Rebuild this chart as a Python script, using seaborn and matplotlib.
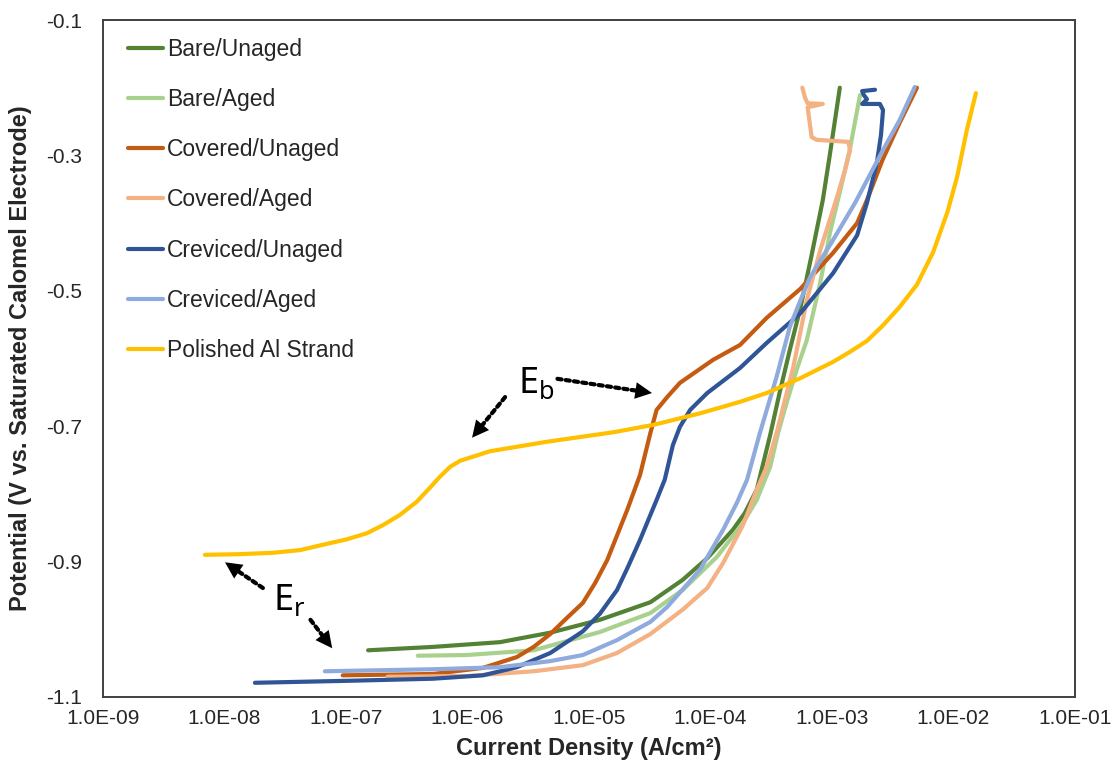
import numpy as np
import pandas as pd
import matplotlib
matplotlib.use("Agg")
import matplotlib.pyplot as plt
import matplotlib.ticker as mticker
import seaborn as sns

# ================= data =================
names = ["Bare/Unaged", "Bare/Aged", "Covered/Unaged", "Covered/Aged",
         "Creviced/Unaged", "Creviced/Aged", "Polished Al Strand"]
colors = ["#548235", "#A9D18E", "#C55A11", "#F4B183", "#2F5597", "#8FAADC", "#FFC000"]

# current density (A/cm2) and potential (V vs SCE)
bare_unaged_i = [1.52e-7, 5.2e-7, 1.85e-6, 4.8e-6, 1.23e-5, 3.2e-5, 5.9e-5, 9.4e-5,
                 1.53e-4, 1.92e-4, 2.4e-4, 3.1e-4, 3.7e-4, 4.5e-4, 5.5e-4, 6.8e-4,
                 8.4e-4, 9.6e-4, 1.16e-3]
bare_unaged_e = [-1.031, -1.026, -1.019, -1.005, -0.986, -0.960, -0.927, -0.895,
                 -0.853, -0.828, -0.794, -0.713, -0.651, -0.587, -0.525, -0.447,
                 -0.366, -0.299, -0.200]

bare_aged_i = [3.9e-7, 9.9e-7, 3.5e-6, 1.23e-5, 3.2e-5, 5.9e-5, 1.13e-4, 1.85e-4,
               2.4e-4, 3.1e-4, 3.6e-4, 4.3e-4, 5.2e-4, 6.2e-4, 8.0e-4, 9.6e-4,
               1.16e-3, 1.41e-3, 1.70e-3]
bare_aged_e = [-1.039, -1.038, -1.031, -1.004, -0.976, -0.942, -0.893, -0.843,
               -0.809, -0.760, -0.710, -0.661, -0.613, -0.573, -0.488, -0.415,
               -0.354, -0.289, -0.211]

covered_unaged_i = [9.4e-8, 5.2e-7, 1.34e-6, 2.55e-6, 3.5e-6, 4.8e-6, 6.6e-6, 8.9e-6,
                    1.12e-5, 1.41e-5, 2.06e-5, 2.63e-5, 3.2e-5, 3.6e-5, 4.4e-5, 5.6e-5,
                    1.05e-4, 1.75e-4, 2.9e-4, 5.5e-4, 1.02e-3, 1.61e-3, 1.94e-3, 2.6e-3,
                    3.6e-3, 5.0e-3]
covered_unaged_e = [-1.068, -1.066, -1.057, -1.041, -1.026, -1.007, -0.983, -0.961,
                    -0.932, -0.898, -0.824, -0.772, -0.710, -0.676, -0.657, -0.636,
                    -0.602, -0.580, -0.540, -0.497, -0.444, -0.400, -0.366, -0.307,
                    -0.252, -0.200]

covered_aged_i = [2.2e-7, 9.9e-7, 3.5e-6, 8.9e-6, 1.70e-5, 3.2e-5, 5.9e-5, 9.4e-5,
                  1.27e-4, 1.85e-4, 2.4e-4, 2.9e-4, 3.5e-4, 4.1e-4, 4.8e-4, 6.2e-4,
                  8.0e-4, 1.08e-3, 1.28e-3, 1.41e-3, 1.36e-3, 7.5e-4, 6.8e-4, 6.3e-4,
                  8.4e-4, 6.3e-4, 6.0e-4, 5.7e-4]
covered_aged_e = [-1.070, -1.069, -1.062, -1.053, -1.035, -1.007, -0.971, -0.939,
                  -0.902, -0.846, -0.794, -0.760, -0.710, -0.661, -0.613, -0.514,
                  -0.440, -0.366, -0.322, -0.292, -0.280, -0.277, -0.273, -0.229,
                  -0.224, -0.223, -0.215, -0.200]

creviced_unaged_i = [1.78e-8, 1.08e-7, 5.2e-7, 1.34e-6, 2.55e-6, 4.8e-6, 8.9e-6, 1.23e-5,
                     1.70e-5, 2.09e-5, 2.63e-5, 3.6e-5, 4.2e-5, 4.9e-5, 5.6e-5, 6.8e-5,
                     9.4e-5, 1.75e-4, 2.9e-4, 5.5e-4, 1.02e-3, 1.61e-3, 1.94e-3, 2.34e-3,
                     2.53e-3, 2.63e-3, 2.48e-3, 1.77e-3, 1.94e-3, 1.83e-3, 1.77e-3, 2.26e-3]
creviced_unaged_e = [-1.079, -1.076, -1.073, -1.068, -1.056, -1.035, -1.003, -0.977,
                     -0.942, -0.908, -0.868, -0.809, -0.779, -0.728, -0.701, -0.676,
                     -0.651, -0.614, -0.577, -0.533, -0.474, -0.418, -0.370, -0.311,
                     -0.270, -0.233, -0.224, -0.224, -0.217, -0.211, -0.205, -0.203]

creviced_aged_i = [6.7e-8, 5.2e-7, 1.85e-6, 4.8e-6, 8.9e-6, 1.70e-5, 3.2e-5, 4.4e-5,
                   8.2e-5, 1.27e-4, 1.65e-4, 2.0e-4, 2.55e-4, 3.5e-4, 4.5e-4, 5.5e-4,
                   6.6e-4, 1.02e-3, 1.55e-3, 2.63e-3, 3.6e-3, 4.8e-3]
creviced_aged_e = [-1.062, -1.059, -1.056, -1.047, -1.038, -1.016, -0.989, -0.967,
                   -0.912, -0.853, -0.813, -0.779, -0.710, -0.627, -0.553, -0.514,
                   -0.480, -0.425, -0.370, -0.292, -0.248, -0.199]

polished_i = [6.9e-9, 1.34e-8, 2.5e-8, 4.2e-8, 6.5e-8, 1.02e-7, 1.49e-7, 2.02e-7,
              2.78e-7, 3.8e-7, 4.9e-7, 5.9e-7, 7.2e-7, 8.7e-7, 1.11e-6, 1.53e-6,
              4.5e-6, 1.58e-5, 3.4e-5, 8.2e-5, 1.75e-4, 2.9e-4, 5.5e-4, 1.02e-3,
              1.41e-3, 1.94e-3, 2.63e-3, 3.6e-3, 5.0e-3, 6.8e-3, 8.9e-3, 1.07e-2,
              1.29e-2, 1.53e-2]
polished_e = [-0.890, -0.889, -0.887, -0.883, -0.875, -0.867, -0.858, -0.846,
              -0.831, -0.812, -0.791, -0.775, -0.760, -0.751, -0.745, -0.737,
              -0.723, -0.709, -0.698, -0.681, -0.664, -0.651, -0.629, -0.605,
              -0.590, -0.574, -0.551, -0.524, -0.491, -0.443, -0.384, -0.332,
              -0.262, -0.208]

xtick_values = [1e-9, 1e-8, 1e-7, 1e-6, 1e-5, 1e-4, 1e-3, 1e-2, 1e-1]
ytick_values = [-1.1, -0.9, -0.7, -0.5, -0.3, -0.1]

# ================= plot =================
sns.set_theme(style="white")
plt.rcParams['font.family'] = ['Liberation Sans', 'DejaVu Sans']
plt.rcParams['axes.unicode_minus'] = False

series = [
    (bare_unaged_i, bare_unaged_e), (bare_aged_i, bare_aged_e),
    (covered_unaged_i, covered_unaged_e), (covered_aged_i, covered_aged_e),
    (creviced_unaged_i, creviced_unaged_e), (creviced_aged_i, creviced_aged_e),
    (polished_i, polished_e),
]
frames = []
for name, (cur, pot) in zip(names, series):
    frames.append(pd.DataFrame({"current": cur, "potential": pot, "sample": name}))
df = pd.concat(frames, ignore_index=True)

fig = plt.figure(figsize=(11.17, 7.71), dpi=100)
ax = fig.add_axes([103 / 1117, 1 - 697 / 771, 972 / 1117, 677 / 771])
ax.set_xscale("log")

sns.lineplot(data=df, x="current", y="potential", hue="sample", hue_order=names,
             palette=colors, sort=False, estimator=None, lw=3,
             solid_capstyle="round", solid_joinstyle="round", ax=ax)

ax.set_xlim(1e-9, 1e-1)
ax.set_ylim(-1.1, -0.1)
ax.xaxis.set_major_locator(mticker.FixedLocator(xtick_values))
ax.xaxis.set_minor_locator(mticker.NullLocator())
ax.xaxis.set_major_formatter(mticker.FuncFormatter(lambda v, p: f"{v:.1E}"))
ax.set_yticks(ytick_values)
ax.yaxis.set_major_formatter(mticker.FuncFormatter(lambda v, p: f"{v:.1f}"))
ax.tick_params(axis="x", length=0, pad=9, labelsize=15, colors="#262626")
ax.tick_params(axis="y", length=0, pad=15, labelsize=15, colors="#262626")
for sp in ax.spines.values():
    sp.set_color("#404040")
    sp.set_linewidth(1.4)

ax.set_xlabel("Current Density (A/cm²)", fontsize=17, fontweight="bold", labelpad=6)
ax.set_ylabel("Potential (V vs. Saturated Calomel Electrode)", fontsize=17,
              fontweight="bold", labelpad=10)

sns.move_legend(ax, "upper left", bbox_to_anchor=(0.026, 0.974), frameon=False,
                title=None, fontsize=16.5, handlelength=1.53, handletextpad=0.17,
                labelspacing=1.19, borderpad=0, borderaxespad=0)


def dotted_arrow(tail, tip):
    # dotted shaft, then a solid filled head on top
    ax.annotate("", xy=tip, xytext=tail,
                arrowprops=dict(arrowstyle="-", color="black", lw=3,
                                linestyle=(0, (1, 1)), shrinkA=0, shrinkB=10))
    ax.annotate("", xy=tip, xytext=tail,
                arrowprops=dict(arrowstyle="-|>,head_length=0.8,head_width=0.4",
                                color="black", lw=0, mutation_scale=15,
                                shrinkA=0, shrinkB=0))


tfont = dict(fontsize=26, family=["Noto Sans", "DejaVu Sans"], color="black")
ax.text(2.6e-6, -0.651, r"E$_{\mathregular{b}}$", ha="left", va="baseline", **tfont)
dotted_arrow((5.5e-6, -0.630), (3.3e-5, -0.651))
dotted_arrow((2.04e-6, -0.657), (1.09e-6, -0.717))
ax.text(2.5e-8, -0.971, r"E$_{\mathregular{r}}$", ha="left", va="baseline", **tfont)
dotted_arrow((2.07e-8, -0.939), (1.01e-8, -0.901))
dotted_arrow((5.1e-8, -0.986), (7.7e-8, -1.028))

fig.savefig("out.png", dpi=100)
